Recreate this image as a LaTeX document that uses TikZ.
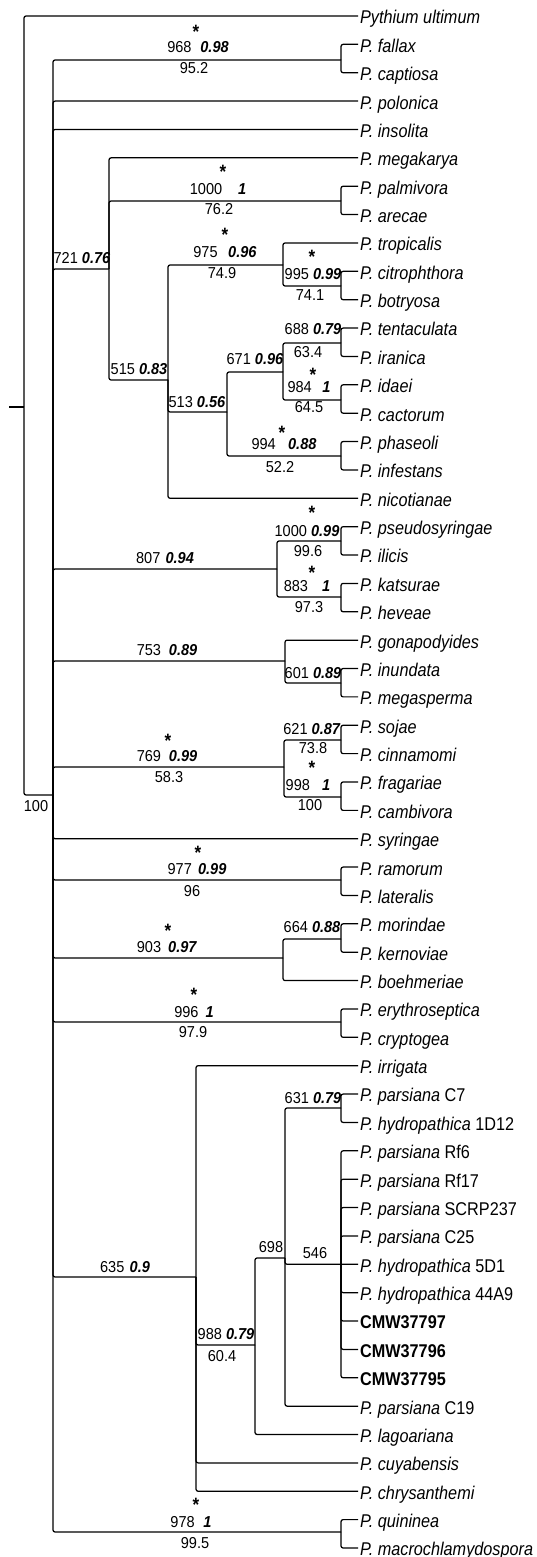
\documentclass[tikz,border=0pt]{standalone}
\usepackage{fontspec}
\setmainfont{Liberation Sans}[FakeStretch=0.88]
\newfontfamily\supfont{Liberation Sans}[FakeStretch=0.92]
\usepackage{tikz}
\newcommand{\postp}[1]{\textbf{\textit{#1}}}

\tikzset{
  branch/.style={line width=0.7pt, rounded corners=1.2pt},
  taxon/.style={anchor=west, inner sep=1pt, font=\fontsize{10.5}{12}\selectfont, text height=9pt, text depth=0pt},
  supp/.style={inner sep=0pt, font=\supfont\fontsize{9}{10}\selectfont},
  starlbl/.style={anchor=north, inner sep=0pt, font=\bfseries\fontsize{11}{12}\selectfont},
}

\begin{document}
\begin{tikzpicture}[x=0.02cm, y=-0.02cm]
    \useasboundingbox (0,0) rectangle (537,1557);
    % Taxa
    \foreach \nm/\txt [count=\i from 0] in {
        pyth/\textit{Pythium ultimum}, fallax/\textit{P. fallax}, captiosa/\textit{P. captiosa},
        polonica/\textit{P. polonica}, insolita/\textit{P. insolita}, megakarya/\textit{P. megakarya},
        palmivora/\textit{P. palmivora}, arecae/\textit{P. arecae}, tropicalis/\textit{P. tropicalis},
        citrophthora/\textit{P. citrophthora}, botryosa/\textit{P. botryosa}, tentaculata/\textit{P. tentaculata},
        iranica/\textit{P. iranica}, idaei/\textit{P. idaei}, cactorum/\textit{P. cactorum},
        phaseoli/\textit{P. phaseoli}, infestans/\textit{P. infestans}, nicotianae/\textit{P. nicotianae},
        pseudosyringae/\textit{P. pseudosyringae}, ilicis/\textit{P. ilicis}, katsurae/\textit{P. katsurae},
        heveae/\textit{P. heveae}, gonapodyides/\textit{P. gonapodyides}, inundata/\textit{P. inundata},
        megasperma/\textit{P. megasperma}, sojae/\textit{P. sojae}, cinnamomi/\textit{P. cinnamomi},
        fragariae/\textit{P. fragariae}, cambivora/\textit{P. cambivora}, syringae/\textit{P. syringae},
        ramorum/\textit{P. ramorum}, lateralis/\textit{P. lateralis}, morindae/\textit{P. morindae},
        kernoviae/\textit{P. kernoviae}, boehmeriae/\textit{P. boehmeriae}, erythroseptica/\textit{P. erythroseptica},
        cryptogea/\textit{P. cryptogea}, irrigata/\textit{P. irrigata}, parsC7/\textit{P. parsiana} C7,
        hydro1D12/\textit{P. hydropathica} 1D12, parsRf6/\textit{P. parsiana} Rf6, parsRf17/\textit{P. parsiana} Rf17,
        parsSCRP/\textit{P. parsiana} SCRP237, parsC25/\textit{P. parsiana} C25, hydro5D1/\textit{P. hydropathica} 5D1,
        hydro44A9/\textit{P. hydropathica} 44A9, cmw97/\textbf{CMW37797}, cmw96/\textbf{CMW37796},
        cmw95/\textbf{CMW37795}, parsC19/\textit{P. parsiana} C19, lagoariana/\textit{P. lagoariana},
        cuyabensis/\textit{P. cuyabensis}, chrysanthemi/\textit{P. chrysanthemi}, quininea/\textit{P. quininea},
        macrochl/\textit{P. macrochlamydospora}}
        \node[taxon] (\nm) at (358,{16+28.37*\i}) {\txt};
    % Internal nodes
    \coordinate (stub) at (9,407);
    \coordinate (root) at (24,407);
    \coordinate (phy) at (53,795);
    \coordinate (c968) at (341,60);
    \coordinate (c721) at (109,269);
    \coordinate (c1000a) at (341,201);
    \coordinate (c515) at (168,380);
    \coordinate (c975) at (283,265);
    \coordinate (c995) at (341,286);
    \coordinate (c513) at (227,412);
    \coordinate (c671) at (283,372);
    \coordinate (c688) at (341,343);
    \coordinate (c984) at (341,400);
    \coordinate (c994) at (341,456);
    \coordinate (c807) at (277,569);
    \coordinate (c1000b) at (341,541);
    \coordinate (c883) at (341,597);
    \coordinate (c753) at (285,661);
    \coordinate (c601) at (341,683);
    \coordinate (c769) at (284,767);
    \coordinate (c621) at (341,740);
    \coordinate (c998) at (341,797);
    \coordinate (c977) at (341,880);
    \coordinate (c903) at (283,958);
    \coordinate (c664) at (341,939);
    \coordinate (c996) at (341,1022);
    \coordinate (c635) at (196,1277);
    \coordinate (c988) at (255,1345);
    \coordinate (c698) at (285,1258);
    \coordinate (c631) at (341,1108);
    \coordinate (c546) at (341,1264.3);
    \coordinate (c978) at (341,1532);
    % Branches
    \draw[branch] (stub) -- (root);
    \foreach \p/\c in {root/pyth, root/phy,
        phy/c968, c968/fallax, c968/captiosa, phy/polonica, phy/insolita,
        phy/c721, c721/megakarya, c721/c1000a, c1000a/palmivora, c1000a/arecae,
        c721/c515, c515/c975, c975/tropicalis, c975/c995, c995/citrophthora, c995/botryosa,
        c515/c513, c513/c671, c671/c688, c688/tentaculata, c688/iranica,
        c671/c984, c984/idaei, c984/cactorum, c513/c994, c994/phaseoli, c994/infestans,
        c515/nicotianae,
        phy/c807, c807/c1000b, c1000b/pseudosyringae, c1000b/ilicis, c807/c883, c883/katsurae, c883/heveae,
        phy/c753, c753/gonapodyides, c753/c601, c601/inundata, c601/megasperma,
        phy/c769, c769/c621, c621/sojae, c621/cinnamomi, c769/c998, c998/fragariae, c998/cambivora,
        phy/syringae, phy/c977, c977/ramorum, c977/lateralis,
        phy/c903, c903/c664, c664/morindae, c664/kernoviae, c903/boehmeriae,
        phy/c996, c996/erythroseptica, c996/cryptogea,
        phy/c635, c635/irrigata, c635/c988, c988/c698, c698/c631, c631/parsC7, c631/hydro1D12,
        c698/c546, c546/parsRf6, c546/parsRf17, c546/parsSCRP, c546/parsC25, c546/hydro44A9,
        c546/cmw97, c546/cmw96, c546/cmw95, c698/parsC19, c988/lagoariana,
        c635/cuyabensis, c635/chrysanthemi,
        phy/c978, c978/quininea, c978/macrochl}
        \draw[branch] (\p) |- (\c);
    \draw[branch] (c546) -- (hydro5D1);
    % Support values
    \node[supp] (l100) at (36,806) {100};
    \node[starlbl] (s968) at (196,25) {*};
    \node[supp] (l968) at (198,47) {968\hspace{5pt}\postp{0.98}};
    \node[supp] (m968) at (194,68) {95.2};
    \node[starlbl] (s1000a) at (223,165) {*};
    \node[supp] (l1000a) at (218,189) {1000\hspace{9pt}\postp{1}};
    \node[supp] (m1000a) at (219,209) {76.2};
    \node[supp] (l721) at (82,258) {721 \postp{0.76}};
    \node[starlbl] (s975) at (225,228) {*};
    \node[supp] (l975) at (225,252) {975\hspace{6pt}\postp{0.96}};
    \node[supp] (m975) at (222,273) {74.9};
    \node[starlbl] (s995) at (312,250) {*};
    \node[supp] (l995) at (313,274) {995 \postp{0.99}};
    \node[supp] (m995) at (310,295) {74.1};
    \node[supp] (l515) at (139,369) {515 \postp{0.83}};
    \node[supp] (l671) at (255,359) {671 \postp{0.96}};
    \node[supp] (l688) at (313,329) {688 \postp{0.79}};
    \node[supp] (m688) at (308,352) {63.4};
    \node[starlbl] (s984) at (313,368) {*};
    \node[supp] (l984) at (309,387) {984\hspace{6pt}\postp{1}};
    \node[supp] (m984) at (309,407) {64.5};
    \node[supp] (l513) at (197,402) {513 \postp{0.56}};
    \node[starlbl] (s994) at (282,426) {*};
    \node[supp] (l994) at (284,444) {994\hspace{7pt}\postp{0.88}};
    \node[supp] (m994) at (280,467) {52.2};
    \node[starlbl] (s1000b) at (312,506) {*};
    \node[supp] (l1000b) at (307,531) {1000 \postp{0.99}};
    \node[supp] (m1000b) at (308,551) {99.6};
    \node[starlbl] (s883) at (312,566) {*};
    \node[supp] (l883) at (307,586) {883\hspace{8pt}\postp{1}};
    \node[supp] (m883) at (309,607) {97.3};
    \node[supp] (l807) at (165,558) {807\hspace{3pt}\postp{0.94}};
    \node[supp] (l753) at (167,650) {753\hspace{4.5pt}\postp{0.89}};
    \node[supp] (l601) at (313,673) {601 \postp{0.89}};
    \node[starlbl] (s769) at (168,734) {*};
    \node[supp] (l769) at (167,756) {769\hspace{4.5pt}\postp{0.99}};
    \node[supp] (m769) at (169,777) {58.3};
    \node[supp] (l621) at (312,729) {621 \postp{0.87}};
    \node[supp] (m621) at (313,748) {73.8};
    \node[starlbl] (s998) at (312,761) {*};
    \node[supp] (l998) at (308,785) {998\hspace{7pt}\postp{1}};
    \node[supp] (m998) at (310,805) {100};
    \node[starlbl] (s977) at (198,846) {*};
    \node[supp] (l977) at (197,869) {977\hspace{3.5pt}\postp{0.99}};
    \node[supp] (m977) at (192,891) {96};
    \node[starlbl] (s903) at (168,924) {*};
    \node[supp] (l903) at (167,947) {903\hspace{4pt}\postp{0.97}};
    \node[supp] (l664) at (312,927) {664 \postp{0.88}};
    \node[starlbl] (s996) at (194,988) {*};
    \node[supp] (l996) at (194,1012) {996\hspace{4pt}\postp{1}};
    \node[supp] (m996) at (193,1032) {97.9};
    \node[supp] (l635) at (125,1267) {635\hspace{3pt}\postp{0.9}};
    \node[supp] (l988) at (226,1334) {988 \postp{0.79}};
    \node[supp] (m988) at (222,1356) {60.4};
    \node[supp] (l698) at (271,1247) {698};
    \node[supp] (l631) at (313,1098) {631 \postp{0.79}};
    \node[supp] (l546) at (315,1253) {546};
    \node[starlbl] (s978) at (196,1498) {*};
    \node[supp] (l978) at (191,1522) {978\hspace{5pt}\postp{1}};
    \node[supp] (m978) at (195,1543) {99.5};
\end{tikzpicture}
\end{document}
